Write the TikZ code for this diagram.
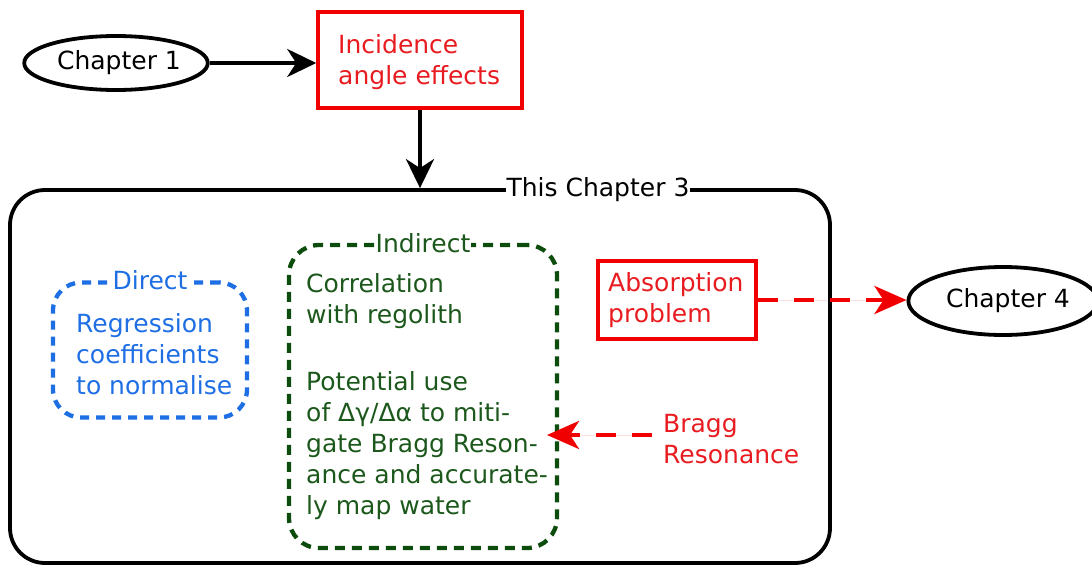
\documentclass[tikz,border=0pt]{standalone}
\usepackage{fontspec}
\setmainfont{DejaVu Sans}
\usetikzlibrary{arrows.meta,shapes.geometric}
\definecolor{redtxt}{RGB}{232,28,32}
\definecolor{redline}{RGB}{240,0,0}
\definecolor{bluetxt}{RGB}{30,110,228}
\definecolor{greentxt}{RGB}{28,88,28}
\definecolor{greenline}{RGB}{12,76,12}
\begin{document}
\begin{tikzpicture}[x=1pt,y=-1pt,
  font=\fontsize{25}{31}\selectfont,
  blackarr/.style={-{Stealth[length=29pt,width=28pt,inset=9pt]}, line width=3.8pt, draw=black},
  redarr/.style={-{Stealth[length=32pt,width=28pt,inset=9pt]}, line width=4.5pt, draw=redline, fill=redline, dash pattern=on 20pt off 16pt},
  chap/.style={ellipse, draw=black, line width=3.8pt, inner sep=0pt},
  redbox/.style={draw=redline, line width=3.6pt, inner sep=0pt},
  txt/.style={anchor=north west, inner sep=0pt, align=left},
  bluebox/.style={draw=bluetxt, line width=4.3pt, rounded corners=28pt, dash pattern=on 9pt off 7pt, inner sep=0pt},
  greenbox/.style={draw=greenline, line width=4.3pt, rounded corners=30pt, dash pattern=on 10pt off 7pt, inner sep=0pt},
  boxtitle/.style={fill=white, inner xsep=1pt, inner ysep=0pt}
]
\useasboundingbox (0,0) rectangle (1092,565);

% Chapter 1 and incidence
\node[chap, minimum width=178pt, minimum height=54pt] (ch1) at (116,63) {\hspace{6pt}Chapter 1};
\node[redbox, minimum width=204pt, minimum height=96pt] (inc) at (420,60) {};
\node[txt, text=redtxt] (inctxt) at (338,34) {Incidence\\angle effects};

% Big chapter 3 frame
\node[draw=black, line width=3.8pt, rounded corners=35pt, minimum width=820pt, minimum height=373pt, inner sep=0pt] (ch3) at (420,376.5) {};
\node[boxtitle] (ch3t) at (598,190) {This Chapter 3};

\draw[blackarr] (ch1.east) -- (inc.west |- ch1.east);
\draw[blackarr] (inc.south) -- (inc.south |- ch3.north);

% Direct
\node[bluebox, minimum width=194pt, minimum height=135pt] (dir) at (150,350) {};
\node[boxtitle, text=bluetxt] (dirt) at (dir.north) {Direct};
\node[txt, text=bluetxt] (dirtxt) at (76,313) {Regression\\coefficients\\to normalise};

% Indirect
\node[greenbox, minimum width=268pt, minimum height=303pt] (ind) at (423,396.5) {};
\node[boxtitle, text=greentxt] (indt) at (ind.north) {Indirect};
\node[txt, text=greentxt] (indtxt) at (306,273) {Correlation\\with regolith\\[36pt]Potential use\\of Δγ/Δα to miti-\\gate Bragg Reson-\\ance and accurate-\\ly map water};

% Absorption and chapter 4
\node[redbox, minimum width=158pt, minimum height=78pt] (abs) at (677,300) {};
\node[txt, text=redtxt] (abstxt) at (608,272) {Absorption\\problem};
\node[chap, minimum width=176pt, minimum height=68pt] (ch4) at (1003,301) {\hspace{10pt}Chapter 4};
\draw[redarr] (abs.east) -- (ch4.west |- abs.east);

% Bragg resonance
\node[txt, text=redtxt] (bragg) at (663,414) {Bragg\\Resonance};
\coordinate (btail) at (652,435);
\coordinate (btip) at (547,435);
\draw[redarr] (btail) -- (btip);
\end{tikzpicture}
\end{document}
